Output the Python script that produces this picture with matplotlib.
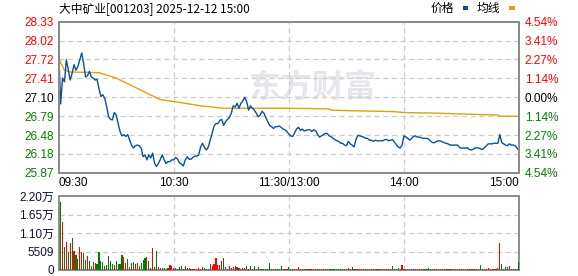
import matplotlib.pyplot as plt
from matplotlib.patches import Rectangle

# 标题 / 基本信息
title = "大中矿业[001203] 2025-12-12 15:00"
prev_close = 27.10
price_ticks = [25.87, 26.18, 26.48, 26.79, 27.10, 27.41, 27.72, 28.02, 28.33]
pct_labels = ["4.54%", "3.41%", "2.27%", "1.14%", "0.00%", "1.14%", "2.27%", "3.41%", "4.54%"]
time_pos = [0, 60, 120, 180, 240]
time_labels = ["09:30", "10:30", "11:30/13:00", "14:00", "15:00"]
vol_ticks = [0, 5509, 11018, 16527, 22036]
vol_labels = ["0", "5509", "1.10万", "1.65万", "2.20万"]

# 分时价格 (每分钟, 09:30 - 15:00)
price = [
    27.87, 26.99, 27.41, 27.35, 27.71, 27.54, 27.38, 27.49, 27.63, 27.54,
    27.60, 27.71, 27.82, 27.65, 27.43, 27.45, 27.52, 27.43, 27.41, 27.38,
    27.39, 27.24, 27.11, 27.14, 27.08, 26.95, 26.78, 26.74, 26.73, 26.85,
    26.81, 26.67, 26.54, 26.47, 26.49, 26.46, 26.49, 26.40, 26.32, 26.27,
    26.31, 26.32, 26.31, 26.27, 26.13, 26.16, 26.08, 26.16, 26.11, 26.19,
    26.02, 25.97, 26.02, 26.09, 26.16, 26.08, 26.02, 26.05, 26.05, 26.08,
    26.08, 26.12, 26.09, 26.03, 26.01, 25.98, 26.08, 26.13, 26.09, 26.09,
    26.12, 26.14, 26.14, 26.16, 26.29, 26.35, 26.28, 26.24, 26.29, 26.40,
    26.51, 26.63, 26.67, 26.67, 26.72, 26.74, 26.64, 26.70, 26.74, 26.77,
    26.84, 26.96, 26.94, 27.00, 26.92, 27.00, 27.04, 27.10, 27.03, 26.89,
    26.96, 26.92, 26.89, 26.84, 26.78, 26.81, 26.87, 26.84, 26.77, 26.70,
    26.64, 26.62, 26.59, 26.62, 26.62, 26.63, 26.61, 26.58, 26.57, 26.54,
    26.50, 26.47, 26.46, 26.52, 26.58, 26.61, 26.56, 26.58, 26.55, 26.56,
    26.57, 26.57, 26.54, 26.57, 26.55, 26.49, 26.45, 26.47, 26.49, 26.51,
    26.51, 26.47, 26.46, 26.43, 26.41, 26.39, 26.38, 26.35, 26.35, 26.32,
    26.31, 26.38, 26.34, 26.32, 26.29, 26.41, 26.48, 26.47, 26.46, 26.45,
    26.43, 26.43, 26.40, 26.40, 26.38, 26.40, 26.39, 26.39, 26.39, 26.39,
    26.41, 26.41, 26.39, 26.40, 26.41, 26.37, 26.33, 26.29, 26.27, 26.32,
    26.47, 26.45, 26.43, 26.40, 26.43, 26.46, 26.47, 26.45, 26.45, 26.44,
    26.43, 26.43, 26.43, 26.41, 26.38, 26.36, 26.36, 26.38, 26.39, 26.39,
    26.37, 26.36, 26.35, 26.34, 26.32, 26.32, 26.32, 26.32, 26.32, 26.28,
    26.27, 26.27, 26.27, 26.28, 26.25, 26.24, 26.25, 26.27, 26.28, 26.27,
    26.26, 26.25, 26.28, 26.31, 26.34, 26.34, 26.34, 26.35, 26.35, 26.35,
    26.49, 26.36, 26.34, 26.32, 26.31, 26.34, 26.32, 26.32, 26.31, 26.27,
    26.23,
]

# 均价线
avg_min = [0, 1, 3, 6, 21, 30, 38, 47, 53, 60, 74, 86, 120, 141, 142, 152,
           175, 180, 197, 217, 229, 230, 240]
avg_val = [27.76, 27.66, 27.54, 27.51, 27.50, 27.41, 27.29, 27.15, 27.06, 27.03,
           26.96, 26.92, 26.92, 26.91, 26.89, 26.88, 26.865, 26.85, 26.84, 26.82,
           26.81, 26.79, 26.79]

# 成交量 (09:31 - 15:00), 方向 R=涨 G=跌
volume = [
    20250, 14300, 6850, 8340, 5360, 8140, 9530, 5560, 4370, 3380,
    6850, 5360, 5160, 2880, 4170, 2580, 1190, 2380, 2080, 1890,
    5360, 2580, 2380, 1190, 1590, 4170, 2580, 1890, 1590, 2580,
    1790, 1790, 4570, 3870, 2080, 3380, 890, 2080, 2380, 1890,
    2080, 1190, 2180, 2880, 3570, 3870, 2680, 600, 6550, 790,
    5760, 890, 600, 600, 500, 400, 600, 1590, 1190, 600,
    600, 200, 1000, 1190, 400, 1190, 600, 600, 300, 200,
    200, 200, 600, 400, 900, 600, 200, 200, 1890, 1190,
    1890, 3570, 1590, 1590, 2680, 3570, 900, 200, 1190, 600,
    900, 1190, 900, 600, 200, 600, 600, 1190, 200, 1190,
    400, 1190, 400, 900, 400, 200, 200, 200, 200, 2180,
    200, 200, 200, 200, 200, 1190, 200, 200, 400, 900,
    300, 200, 300, 300, 900, 200, 300, 200, 200, 300,
    200, 300, 200, 200, 300, 300, 200, 300, 300, 200,
    300, 400, 300, 300, 200, 300, 300, 200, 300, 300,
    600, 300, 900, 300, 300, 200, 200, 200, 300, 200,
    200, 300, 200, 300, 300, 200, 200, 200, 300, 200,
    300, 200, 300, 1190, 300, 200, 500, 200, 1490, 300,
    300, 200, 300, 200, 300, 200, 300, 200, 300, 200,
    300, 200, 500, 300, 200, 300, 300, 300, 200, 300,
    300, 200, 300, 300, 200, 300, 300, 200, 300, 200,
    300, 200, 300, 200, 300, 200, 300, 200, 300, 1490,
    300, 200, 300, 500, 300, 200, 300, 300, 500, 8140,
    1890, 300, 900, 900, 1190, 300, 300, 200, 300, 2380,
]
direction = (
    "GRGRGRGRGG" "RRGGRGRGRG" "GGGRGGGGRG" "GGGRRGRGGR" "RGGGGRGRRG" "GRGGRGGRRR"
    "RGGGRGRRGR" "RRRRRGGGRR" "RRRRRGRGRR" "RRGRGRRGRG" "RGRGGGGGGG" "GGGRGGGRRG"
    "GRRRRGRGRG" "RGRRGGRRRR" "GGGGGGGRGG" "RRGGRRRGRG" "GRRGRGRGRR" "GRGGGGGGRR"
    "GGRGRRGRRG" "GGGGRGRRRG" "GGRGRGRRGG" "RGRGGRRGRG" "GRRRRGRRRR" "GGGGRGGRGG"
)
vol_min = list(range(1, len(volume) + 1))

plt.rcParams['font.family'] = ['Liberation Sans', 'Noto Sans CJK SC']

fig = plt.figure(figsize=(5.78, 2.76), dpi=100)
W, H = 578, 276
left, right = 58.7 / W, 519 / W
ax = fig.add_axes([left, 1 - 172.7 / H, right - left, (172.7 - 21.7) / H])
axv = fig.add_axes([left, 1 - 270 / H, right - left, (270 - 196) / H])

grid_kw = dict(color='#cccccc', linestyle=(0, (4, 3)), linewidth=0.9, zorder=0)

# 水印
ax.text(0.55, 0.555, "东方财富", transform=ax.transAxes, fontsize=23, fontweight='bold',
        color='#e6e6ec', family='Noto Sans CJK SC', ha='center', va='center', zorder=0)

# 价格区
ax.plot(range(len(price)), price, color='#0a4fa0', linewidth=1.0, zorder=3)
ax.plot(avg_min, avg_val, color='#e0a010', linewidth=1.0, zorder=2)
ax.set_xlim(0, 240)
ax.set_ylim(price_ticks[0], price_ticks[-1])
ax.set_yticks(price_ticks)
ax.set_yticklabels([f"{v:.2f}" for v in price_ticks])
for t, v in zip(ax.get_yticklabels(), price_ticks):
    t.set_color('red' if v > prev_close + 0.001 else ('green' if v < prev_close - 0.001 else 'black'))
ax.set_xticks(time_pos)
ax.set_xticklabels([])
for v in price_ticks[1:-1]:
    ax.axhline(v, **grid_kw)
for v in time_pos[1:-1]:
    ax.axvline(v, **grid_kw)
ax.tick_params(length=0, labelsize=8.5, pad=3.5)

axr = ax.twinx()
axr.set_ylim(ax.get_ylim())
axr.set_yticks(price_ticks)
axr.set_yticklabels(pct_labels)
for t, v in zip(axr.get_yticklabels(), price_ticks):
    t.set_color('red' if v > prev_close + 0.001 else ('green' if v < prev_close - 0.001 else 'black'))
axr.tick_params(length=0, labelsize=8.5, pad=4)

# 时间标签
for p, lab in zip(time_pos, time_labels):
    ha = 'left' if p == 0 else ('right' if p == 240 else 'center')
    ax.text(p, -0.07, lab, transform=ax.get_xaxis_transform(), ha=ha, va='center',
            fontsize=8.5, color='black')

# 成交量区
colors = ['#ff0000' if d == 'R' else '#008000' for d in direction]
axv.bar(vol_min, volume, width=0.6, color=colors, linewidth=0, zorder=3)
axv.set_xlim(0, 240)
axv.set_ylim(0, vol_ticks[-1])
axv.set_yticks(vol_ticks)
axv.set_yticklabels(vol_labels)
axv.set_xticks([])
for v in vol_ticks[1:-1]:
    axv.axhline(v, **grid_kw)
for v in time_pos[1:-1]:
    axv.axvline(v, **grid_kw)
axv.tick_params(length=0, labelsize=8.5, pad=3.5, labelcolor='#111133')

for a in (ax, axr, axv):
    for s in a.spines.values():
        s.set_color('#8c8c8c')
        s.set_linewidth(1.4)

# 标题与图例
fig.text(59 / W, 1 - 8.5 / H, title, fontsize=8.5, family='Noto Sans CJK SC',
         ha='left', va='center', color='black')
fig.text(431 / W, 1 - 8.5 / H, "价格", fontsize=8.5, family='Noto Sans CJK SC',
         ha='left', va='center', color='black')
fig.text(477 / W, 1 - 8.5 / H, "均线", fontsize=8.5, family='Noto Sans CJK SC',
         ha='left', va='center', color='black')
fig.add_artist(Rectangle((463 / W, 1 - 9.5 / H), 5 / W, 3 / H, transform=fig.transFigure,
                         color='#0a4fa0', linewidth=0))
fig.add_artist(Rectangle((509 / W, 1 - 9.5 / H), 6 / W, 3 / H, transform=fig.transFigure,
                         color='#e0a010', linewidth=0))

fig.savefig("out.png", dpi=100)
